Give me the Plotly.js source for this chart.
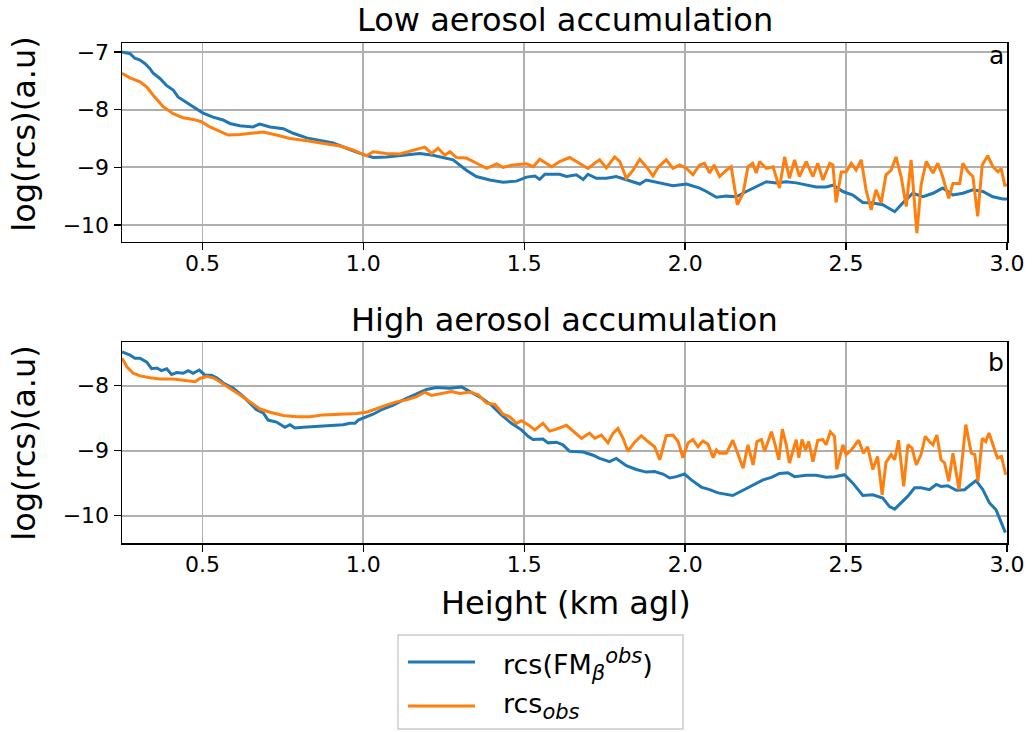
<!DOCTYPE html>
<html>
<head>
<meta charset="utf-8">
<script src="https://cdn.plot.ly/plotly-3.0.1.min.js"></script>
<style>html,body{margin:0;padding:0;background:#fff;}#chart{width:1036px;height:732px;}</style>
</head>
<body>
<div id="chart"></div>
<script>
// ---- Panel a: Low aerosol accumulation ----
var lowFM_h = [0.25,0.275,0.29,0.306,0.321,0.337,0.347,0.368,0.388,0.409,0.424,0.451,0.471,0.502,0.533,0.564,0.585,0.616,0.657,0.678,0.71,0.751,0.782,0.824,0.865,0.906,0.948,0.989,1.03,1.072,1.124,1.175,1.216,1.238,1.279,1.32,1.351,1.393,1.434,1.476,1.507,1.533,1.548,1.564,1.61,1.631,1.662,1.683,1.698,1.724,1.755,1.786,1.817,1.859,1.879,1.921,1.962,2.004,2.045,2.066,2.097,2.128,2.159,2.19,2.221,2.252,2.283,2.314,2.345,2.376,2.407,2.438,2.459,2.49,2.521,2.552,2.583,2.614,2.651,2.676,2.707,2.739,2.77,2.80,2.832,2.863,2.894,2.925,2.956,2.987,3.0];
var lowFM_v = [-7.00,-7.03,-7.11,-7.14,-7.20,-7.29,-7.37,-7.46,-7.58,-7.66,-7.78,-7.87,-7.95,-8.06,-8.13,-8.18,-8.24,-8.28,-8.30,-8.25,-8.30,-8.33,-8.41,-8.49,-8.53,-8.58,-8.67,-8.76,-8.83,-8.82,-8.79,-8.76,-8.79,-8.82,-8.87,-9.05,-9.16,-9.22,-9.26,-9.24,-9.17,-9.15,-9.21,-9.12,-9.12,-9.16,-9.13,-9.21,-9.12,-9.19,-9.19,-9.16,-9.22,-9.29,-9.22,-9.27,-9.32,-9.29,-9.36,-9.42,-9.52,-9.50,-9.51,-9.42,-9.34,-9.25,-9.27,-9.25,-9.27,-9.31,-9.34,-9.34,-9.31,-9.42,-9.48,-9.61,-9.62,-9.65,-9.77,-9.62,-9.45,-9.51,-9.45,-9.36,-9.48,-9.45,-9.39,-9.42,-9.51,-9.55,-9.55];

var lowObs_h = [0.25,0.275,0.306,0.327,0.347,0.378,0.409,0.44,0.471,0.497,0.523,0.554,0.58,0.616,0.658,0.689,0.73,0.772,0.824,0.875,0.927,0.968,1.01,1.03,1.072,1.113,1.155,1.191,1.212,1.232,1.253,1.269,1.289,1.32,1.352,1.383,1.414,1.434,1.465,1.507,1.528,1.548,1.585,1.61,1.641,1.672,1.698,1.719,1.734,1.755,1.781,1.797,1.817,1.838,1.859,1.879,1.90,1.916,1.941,1.962,1.983,2.004,2.024,2.045,2.06,2.076,2.09,2.107,2.128,2.143,2.162,2.18,2.195,2.21,2.221,2.231,2.252,2.273,2.293,2.309,2.324,2.34,2.355,2.376,2.397,2.412,2.428,2.449,2.459,2.469,2.485,2.50,2.516,2.531,2.547,2.562,2.578,2.593,2.609,2.624,2.64,2.655,2.671,2.687,2.702,2.72,2.733,2.749,2.77,2.785,2.80,2.819,2.832,2.853,2.863,2.879,2.894,2.909,2.923,2.94,2.956,2.972,2.982,2.993,3.0];
var lowObs_v = [-7.37,-7.45,-7.52,-7.61,-7.75,-7.95,-8.07,-8.14,-8.17,-8.21,-8.30,-8.38,-8.44,-8.43,-8.41,-8.39,-8.44,-8.50,-8.54,-8.58,-8.63,-8.70,-8.80,-8.73,-8.76,-8.77,-8.70,-8.65,-8.76,-8.67,-8.79,-8.73,-8.83,-8.84,-8.93,-9.02,-8.94,-9.00,-8.96,-8.94,-8.99,-8.86,-8.99,-8.90,-8.83,-8.93,-9.02,-8.93,-8.87,-9.01,-8.82,-8.90,-9.19,-9.05,-8.86,-8.99,-9.15,-9.00,-8.87,-9.02,-8.96,-9.02,-9.13,-8.96,-8.93,-9.10,-8.96,-9.16,-9.05,-8.99,-9.65,-9.45,-8.99,-8.93,-9.10,-8.90,-9.02,-8.99,-9.36,-8.82,-9.19,-8.87,-9.16,-8.90,-9.16,-8.93,-9.22,-8.93,-8.96,-9.61,-9.08,-9.08,-8.93,-9.05,-8.87,-9.39,-9.74,-9.39,-9.62,-9.13,-9.05,-8.82,-9.16,-9.68,-8.87,-10.14,-9.31,-8.90,-9.10,-8.93,-9.16,-9.54,-9.28,-9.28,-8.93,-9.08,-9.16,-9.85,-8.96,-8.80,-8.99,-9.08,-9.02,-9.31,-9.30];

// ---- Panel b: High aerosol accumulation ----
var highFM_h = [0.25,0.275,0.29,0.306,0.327,0.342,0.358,0.373,0.389,0.404,0.42,0.44,0.456,0.471,0.49,0.508,0.528,0.544,0.565,0.596,0.627,0.653,0.668,0.689,0.704,0.73,0.756,0.772,0.787,0.813,0.844,0.875,0.906,0.937,0.958,0.974,0.984,1.005,1.03,1.061,1.093,1.124,1.155,1.196,1.227,1.269,1.305,1.336,1.367,1.398,1.429,1.46,1.491,1.512,1.527,1.558,1.574,1.60,1.62,1.641,1.683,1.714,1.734,1.765,1.786,1.817,1.848,1.879,1.905,1.931,1.952,1.973,1.998,2.019,2.05,2.076,2.102,2.148,2.18,2.211,2.242,2.268,2.293,2.319,2.34,2.376,2.407,2.438,2.464,2.495,2.521,2.552,2.583,2.614,2.635,2.651,2.671,2.692,2.713,2.733,2.759,2.78,2.795,2.816,2.842,2.868,2.888,2.904,2.925,2.945,2.966,2.982,2.995];
var highFM_v = [-7.48,-7.53,-7.58,-7.58,-7.64,-7.74,-7.73,-7.77,-7.74,-7.83,-7.80,-7.81,-7.77,-7.81,-7.76,-7.84,-7.84,-7.88,-7.96,-8.04,-8.17,-8.30,-8.37,-8.42,-8.53,-8.56,-8.64,-8.60,-8.65,-8.64,-8.63,-8.61,-8.60,-8.60,-8.58,-8.58,-8.53,-8.49,-8.44,-8.36,-8.30,-8.22,-8.15,-8.06,-8.03,-8.04,-8.02,-8.10,-8.19,-8.30,-8.45,-8.58,-8.68,-8.78,-8.83,-8.82,-8.88,-8.87,-8.91,-9.01,-9.02,-9.07,-9.12,-9.17,-9.12,-9.23,-9.29,-9.33,-9.32,-9.36,-9.42,-9.40,-9.36,-9.45,-9.56,-9.60,-9.65,-9.69,-9.61,-9.52,-9.45,-9.41,-9.35,-9.34,-9.40,-9.38,-9.38,-9.41,-9.40,-9.37,-9.50,-9.69,-9.68,-9.73,-9.86,-9.90,-9.80,-9.70,-9.57,-9.57,-9.60,-9.52,-9.55,-9.54,-9.61,-9.60,-9.52,-9.46,-9.60,-9.80,-9.91,-10.09,-10.26];

var highObs_h = [0.25,0.265,0.285,0.306,0.337,0.368,0.409,0.451,0.477,0.492,0.513,0.534,0.554,0.585,0.616,0.648,0.679,0.71,0.751,0.793,0.834,0.875,0.927,0.979,1.01,1.041,1.072,1.103,1.134,1.165,1.191,1.212,1.238,1.274,1.30,1.331,1.357,1.383,1.409,1.434,1.455,1.476,1.491,1.512,1.533,1.558,1.579,1.60,1.631,1.652,1.678,1.703,1.719,1.74,1.76,1.776,1.791,1.807,1.822,1.843,1.864,1.884,1.905,1.921,1.941,1.962,1.978,1.993,2.009,2.024,2.04,2.055,2.071,2.087,2.097,2.107,2.128,2.148,2.164,2.18,2.195,2.211,2.223,2.237,2.247,2.268,2.278,2.291,2.302,2.314,2.324,2.345,2.353,2.363,2.374,2.384,2.397,2.412,2.428,2.438,2.451,2.464,2.471,2.49,2.50,2.516,2.539,2.554,2.567,2.583,2.598,2.612,2.624,2.64,2.651,2.663,2.679,2.692,2.705,2.718,2.733,2.746,2.759,2.77,2.782,2.795,2.806,2.819,2.832,2.851,2.872,2.889,2.90,2.91,2.923,2.934,2.944,2.959,2.97,2.983,2.996];
var highObs_v = [-7.58,-7.71,-7.81,-7.85,-7.88,-7.90,-7.90,-7.92,-7.94,-7.89,-7.86,-7.88,-7.94,-8.04,-8.14,-8.25,-8.36,-8.41,-8.46,-8.48,-8.48,-8.45,-8.44,-8.43,-8.41,-8.35,-8.30,-8.25,-8.22,-8.17,-8.10,-8.15,-8.12,-8.09,-8.12,-8.10,-8.14,-8.27,-8.29,-8.44,-8.48,-8.58,-8.54,-8.60,-8.68,-8.58,-8.70,-8.67,-8.61,-8.70,-8.81,-8.73,-8.81,-8.76,-8.88,-8.73,-8.66,-8.81,-9.01,-8.87,-8.77,-8.86,-8.94,-9.14,-8.77,-8.76,-8.86,-9.11,-8.88,-8.83,-8.94,-8.85,-8.90,-9.11,-8.99,-9.04,-9.04,-8.84,-9.04,-9.27,-8.91,-9.22,-8.86,-8.83,-9.01,-8.71,-8.88,-9.14,-8.67,-8.91,-9.19,-8.83,-9.11,-8.83,-8.99,-8.86,-9.17,-8.84,-8.83,-8.91,-8.71,-8.78,-9.29,-8.91,-9.06,-8.99,-8.84,-9.04,-8.94,-9.29,-9.09,-9.68,-9.18,-9.06,-9.14,-8.84,-9.55,-8.91,-8.96,-9.22,-9.06,-8.78,-8.86,-8.91,-8.76,-9.14,-9.19,-9.47,-9.04,-9.60,-8.60,-9.04,-9.06,-9.47,-8.81,-8.86,-8.73,-8.96,-9.11,-9.09,-9.37];

// ---- Text ----
var panelTitles = ['Low aerosol accumulation', 'High aerosol accumulation'];
var panelLetters = ['a', 'b'];
var seriesNames = ['rcs(FM<sub><span style="font-size:21px"><i>β</i></span></sub><sup><span style="font-size:21px"><i>obs</i></span></sup>)', 'rcs<sub><span style="font-size:21px"><i>obs</i></span></sub>'];
var xTitle = 'Height (km agl)';
var yTitle = 'log(rcs)(a.u)';
var xTicks = [0.5, 1.0, 1.5, 2.0, 2.5, 3.0];
var yTicksTop = [-10, -9, -8, -7];
var yTicksBottom = [-10, -9, -8];

var BLUE = '#1f77b4', ORANGE = '#ff7f0e';
var FONT = 'DejaVu Sans, sans-serif';

var traces = [
  {x: lowFM_h, y: lowFM_v, xaxis: 'x', yaxis: 'y', mode: 'lines', line: {color: BLUE, width: 3}, name: 'rcs(FM_beta^obs)', showlegend: false},
  {x: lowObs_h, y: lowObs_v, xaxis: 'x', yaxis: 'y', mode: 'lines', line: {color: ORANGE, width: 3}, name: 'rcs_obs', showlegend: false},
  {x: highFM_h, y: highFM_v, xaxis: 'x2', yaxis: 'y2', mode: 'lines', line: {color: BLUE, width: 3}, name: 'rcs(FM_beta^obs)', showlegend: false},
  {x: highObs_h, y: highObs_v, xaxis: 'x2', yaxis: 'y2', mode: 'lines', line: {color: ORANGE, width: 3}, name: 'rcs_obs', showlegend: false}
];

function xax(anchor) {
  return {anchor: anchor, domain: [0, 1], range: [0.25, 3.0], tickvals: xTicks, tickformat: '.1f',
    showgrid: true, gridcolor: '#b0b0b0', gridwidth: 1.8, zeroline: false,
    showline: true, linecolor: '#000', linewidth: 1.5, mirror: true,
    ticks: 'outside', ticklen: 7, tickwidth: 1.5, tickcolor: '#000', ticklabelstandoff: -6,
    tickfont: {family: FONT, size: 22, color: '#000'}};
}
function yax(anchor, domain, range, tv) {
  return {anchor: anchor, domain: domain, range: range, tickvals: tv,
    showgrid: true, gridcolor: '#b0b0b0', gridwidth: 1.8, zeroline: false,
    showline: true, linecolor: '#000', linewidth: 1.5, mirror: true,
    ticks: 'outside', ticklen: 7, tickwidth: 1.5, tickcolor: '#000',
    tickfont: {family: FONT, size: 22, color: '#000'}};
}

var annFont = {family: FONT, size: 32, color: '#000'};
var annotations = [
  {text: panelTitles[0], xref: 'paper', yref: 'paper', x: 0.5, y: 1.046, xanchor: 'center', yanchor: 'middle', showarrow: false, font: annFont},
  {text: panelTitles[1], xref: 'paper', yref: 'paper', x: 0.5, y: 0.446, xanchor: 'center', yanchor: 'middle', showarrow: false, font: annFont},
  {text: panelLetters[0], xref: 'paper', yref: 'paper', x: 0.999, y: 0.976, xanchor: 'right', yanchor: 'middle', showarrow: false, font: {family: FONT, size: 25, color: '#000'}},
  {text: panelLetters[1], xref: 'paper', yref: 'paper', x: 0.999, y: 0.362, xanchor: 'right', yanchor: 'middle', showarrow: false, font: {family: FONT, size: 25, color: '#000'}},
  {text: xTitle, xref: 'paper', yref: 'paper', x: 0.502, y: -0.12, xanchor: 'center', yanchor: 'middle', showarrow: false, font: annFont},
  {text: yTitle, xref: 'paper', yref: 'paper', x: -0.111, y: 0.818, xanchor: 'center', yanchor: 'middle', textangle: -90, showarrow: false, font: annFont},
  {text: yTitle, xref: 'paper', yref: 'paper', x: -0.111, y: 0.2, xanchor: 'center', yanchor: 'middle', textangle: -90, showarrow: false, font: annFont},
  {text: seriesNames[0], xref: 'paper', yref: 'paper', x: 0.4282, y: -0.242, xanchor: 'left', yanchor: 'middle', showarrow: false, font: {family: FONT, size: 27, color: '#000'}},
  {text: seriesNames[1], xref: 'paper', yref: 'paper', x: 0.4282, y: -0.326, xanchor: 'left', yanchor: 'middle', showarrow: false, font: {family: FONT, size: 27, color: '#000'}}
];

var shapes = [
  {type: 'rect', xref: 'paper', yref: 'paper', x0: 0.3119, x1: 0.6339, y0: -0.372, y1: -0.184, line: {color: '#cccccc', width: 1.5}, fillcolor: 'rgba(255,255,255,0.8)'},
  {type: 'line', xref: 'paper', yref: 'paper', x0: 0.3232, x1: 0.3989, y0: -0.238, y1: -0.238, line: {color: BLUE, width: 3}},
  {type: 'line', xref: 'paper', yref: 'paper', x0: 0.3232, x1: 0.3989, y0: -0.326, y1: -0.326, line: {color: ORANGE, width: 3}}
];

var layout = {
  width: 1036, height: 732,
  margin: {l: 122, r: 29, t: 43, b: 189},
  paper_bgcolor: '#fff', plot_bgcolor: '#fff',
  showlegend: false,
  font: {family: FONT, color: '#000'},
  xaxis: xax('y'),
  yaxis: yax('x', [0.6026, 1], [-10.29, -6.845], yTicksTop),
  xaxis2: xax('y2'),
  yaxis2: yax('x2', [0, 0.4014], [-10.42, -7.334], yTicksBottom),
  annotations: annotations,
  shapes: shapes
};

Plotly.newPlot('chart', traces, layout, {staticPlot: true, displayModeBar: false});
</script>
</body>
</html>
